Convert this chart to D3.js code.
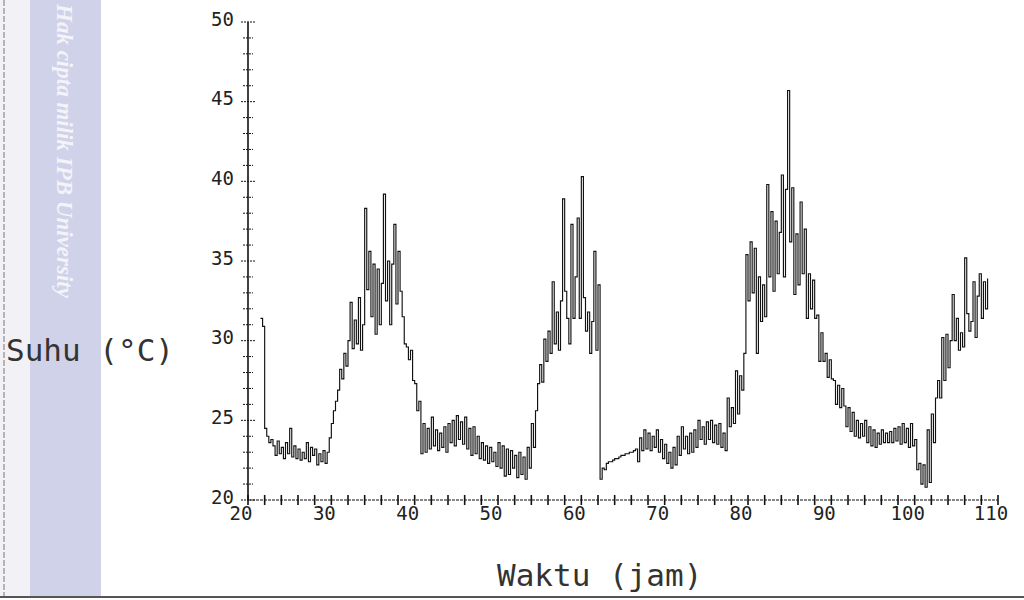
<!DOCTYPE html>
<html>
<head>
<meta charset="utf-8">
<script src="https://cdn.jsdelivr.net/npm/d3@7"></script>
<style>
  html, body { margin: 0; padding: 0; background: #ffffff; }
  svg { display: block; }
</style>
</head>
<body>
<svg id="chart" width="1024" height="600"></svg>
<script>
// ---- data ----
const startHour = 21.5;      // first sample (jam)
const stepHour = 0.25;       // sampling interval (jam)
const temps = [
  31.4, 30.9,
  24.5, 24.0, 23.6, 23.8,   // 22
  23.4, 22.8, 23.7, 22.9,   // 23
  23.3, 22.6, 23.6, 22.9,   // 24
  24.5, 22.7, 23.4, 22.6,   // 25
  23.2, 22.5, 23.0, 22.6,   // 26
  23.6, 22.4, 23.3, 22.8,   // 27
  23.2, 22.2, 22.9, 22.4,   // 28
  23.1, 22.3, 23.0, 23.9,   // 29
  24.8, 25.6, 26.2, 26.9,   // 30
  28.2, 27.6, 29.2, 28.4,   // 31
  30.0, 32.4, 29.5, 31.3,   // 32
  29.8, 32.7, 29.4, 31.0,   // 33
  38.3, 33.2, 35.6, 31.5,   // 34
  34.8, 30.4, 34.5, 31.0,   // 35
  33.6, 39.2, 32.5, 35.0,   // 36
  31.0, 34.8, 37.3, 32.3,   // 37
  35.6, 33.1, 31.5, 29.8,   // 38
  29.6, 28.8, 29.4, 27.5,   // 39
  27.3, 25.6, 26.2, 22.9,   // 40
  24.8, 23.0, 24.5, 23.2,   // 41
  25.2, 23.4, 24.4, 23.1,   // 42
  24.2, 23.3, 24.6, 23.0,   // 43
  24.8, 23.6, 25.0, 23.4,   // 44
  25.3, 23.8, 24.9, 23.5,   // 45
  25.2, 23.2, 24.5, 22.8,   // 46
  24.6, 22.9, 24.0, 22.6,   // 47
  23.6, 22.5, 23.4, 22.3,   // 48
  23.3, 22.4, 23.0, 22.1,   // 49
  23.6, 22.0, 23.4, 21.5,   // 50
  23.2, 21.6, 23.1, 22.0,   // 51
  22.8, 21.4, 23.0, 21.6,   // 52
  22.7, 21.3, 23.3, 22.0,   // 53
  24.8, 23.3, 25.6, 27.3,   // 54
  28.5, 27.4, 30.1, 28.7,   // 55
  30.6, 29.2, 33.7, 29.8,   // 56
  31.8, 29.4, 32.5, 38.9,   // 57
  33.1, 31.4, 29.8, 37.3,   // 58
  31.4, 34.0, 37.7, 31.4,   // 59
  40.3, 32.7, 30.6, 31.8,   // 60
  29.2, 31.2, 35.6, 29.4,   // 61
  33.5, 21.3, 22.0, 21.9,   // 62
  22.3, 22.4, 22.4, 22.5,   // 63
  22.6, 22.6, 22.7, 22.8,   // 64
  22.8, 22.9, 22.9, 23.0,   // 65
  23.0, 23.1, 23.2, 22.4,   // 66
  23.9, 23.1, 24.4, 23.2,   // 67
  24.2, 23.1, 24.0, 23.3,   // 68
  24.4, 23.0, 23.8, 22.6,   // 69
  23.5, 22.3, 23.0, 22.0,   // 70
  23.3, 22.2, 24.0, 22.8,   // 71
  24.6, 23.2, 24.0, 22.9,   // 72
  24.2, 23.0, 24.4, 23.3,   // 73
  25.0, 23.8, 24.6, 23.5,   // 74
  24.9, 23.8, 25.0, 23.6,   // 75
  24.7, 23.5, 24.8, 23.3,   // 76
  24.2, 23.1, 26.4, 24.6,   // 77
  25.8, 24.8, 28.1, 25.4,   // 78
  27.8, 26.9, 29.2, 35.4,   // 79
  32.5, 36.2, 33.0, 35.8,   // 80
  29.2, 34.0, 31.2, 33.5,   // 81
  31.5, 39.8, 34.0, 38.1,   // 82
  33.1, 37.5, 34.2, 36.8,   // 83
  40.4, 34.0, 39.5, 45.7,   // 84
  36.2, 39.6, 32.9, 36.7,   // 85
  33.5, 38.7, 34.2, 37.0,   // 86
  31.4, 34.2, 32.0, 33.8,   // 87
  31.4, 31.6, 28.7, 30.5,   // 88
  28.7, 29.2, 27.7, 28.8,   // 89
  27.6, 27.5, 26.0, 27.2,   // 90
  25.8, 27.0, 25.9, 24.6,   // 91
  25.8, 24.3, 25.5, 24.0,   // 92
  25.0, 23.9, 24.8, 24.0,   // 93
  25.0, 23.6, 24.6, 23.4,   // 94
  24.4, 23.3, 24.2, 23.5,   // 95
  24.4, 23.6, 24.2, 23.6,   // 96
  24.3, 23.6, 24.5, 23.7,   // 97
  24.6, 23.5, 24.8, 23.6,   // 98
  24.5, 23.3, 24.8, 23.4,   // 99
  23.8, 21.9, 22.3, 21.0,   // 100
  22.2, 20.8, 24.4, 21.1,   // 101
  25.4, 23.6, 26.4, 27.5,   // 102
  26.4, 30.2, 27.5, 30.4,   // 103
  28.3, 30.0, 32.9, 30.0,   // 104
  31.4, 29.4, 30.5, 29.6,   // 105
  35.2, 31.7, 30.6, 31.2,   // 106
  33.7, 30.2, 32.8, 34.2,   // 107
  31.4, 33.7, 32.0, 33.9    // 108
];
const xTickLabels = [20, 30, 40, 50, 60, 70, 80, 90, 100, 110];
const yTickLabels = [20, 25, 30, 35, 40, 45, 50];
const xLabel = "Waktu (jam)";
const yLabel = "Suhu (\u00B0C)";
const watermark = "Hak cipta milik IPB University";

// ---- drawing ----
const svg = d3.select("#chart");
const ink = "#111";
const mono = "'DejaVu Sans Mono', 'Liberation Mono', monospace";

// scanned page margin strip
svg.append("rect").attr("x", 0).attr("y", 0).attr("width", 30).attr("height", 596).attr("fill", "#f1f1f6");
svg.append("rect").attr("x", 30).attr("y", 0).attr("width", 71).attr("height", 596).attr("fill", "#cfd2e8");
svg.append("line").attr("x1", 4).attr("x2", 4).attr("y1", 0).attr("y2", 596)
  .attr("stroke", "#8a8a90").attr("stroke-width", 1.2).attr("stroke-dasharray", "6,2");
svg.append("text")
  .attr("transform", "translate(57,4) rotate(90)")
  .attr("font-family", "'Liberation Serif', 'DejaVu Serif', serif")
  .attr("font-style", "italic").attr("font-weight", "bold")
  .attr("font-size", 23).attr("fill", "#ffffff").attr("fill-opacity", 0.75)
  .text(watermark);
svg.append("line").attr("x1", 0).attr("x2", 1024).attr("y1", 597).attr("y2", 597)
  .attr("stroke", "#555").attr("stroke-width", 2);

const x = d3.scaleLinear().domain([20, 110]).range([248, 998]);
const y = d3.scaleLinear().domain([20, 50]).range([500, 22]);

// Y axis: line + cross ticks every 1 unit
const yAxisG = svg.append("g");
yAxisG.append("line").attr("x1", x(20)).attr("x2", x(20)).attr("y1", y(50)).attr("y2", y(20))
  .attr("stroke", ink).attr("stroke-width", 1.6);
yAxisG.selectAll("line.yt").data(d3.range(20, 51, 1)).join("line")
  .attr("class", "yt")
  .attr("x1", d => x(20) - (d % 5 === 0 ? 7 : 5))
  .attr("x2", d => x(20) + (d % 5 === 0 ? 7 : 5))
  .attr("y1", d => y(d)).attr("y2", d => y(d))
  .attr("stroke", ink).attr("stroke-width", 1).attr("stroke-dasharray", "2,1");
yAxisG.selectAll("text").data(yTickLabels).join("text")
  .attr("x", x(20) - 14).attr("y", d => y(d) - 2)
  .attr("text-anchor", "end").attr("dominant-baseline", "middle")
  .attr("font-family", mono).attr("font-size", 19).attr("fill", "#222")
  .text(d => d);

// X axis: line + cross ticks every 2 units
const xAxisG = svg.append("g");
xAxisG.append("line").attr("x1", x(20)).attr("x2", x(110)).attr("y1", y(20)).attr("y2", y(20))
  .attr("stroke", ink).attr("stroke-width", 1).attr("stroke-dasharray", "3,1");
xAxisG.selectAll("line.xt").data(d3.range(20, 111, 2)).join("line")
  .attr("class", "xt")
  .attr("x1", d => x(d)).attr("x2", d => x(d))
  .attr("y1", y(20) - 5).attr("y2", y(20) + 5)
  .attr("stroke", ink).attr("stroke-width", 1.6);
xAxisG.selectAll("text").data(xTickLabels).join("text")
  .attr("x", d => x(d) - 7).attr("y", y(20) + 20)
  .attr("text-anchor", "middle")
  .attr("font-family", mono).attr("font-size", 19).attr("fill", "#222")
  .text(d => d);

// axis titles
svg.append("text").attr("x", 6).attr("y", 361)
  .attr("font-family", mono).attr("font-size", 31).attr("fill", "#333")
  .text(yLabel);
svg.append("text").attr("x", 497).attr("y", 586)
  .attr("font-family", mono).attr("font-size", 31).attr("fill", "#333")
  .text(xLabel);

// series
const points = temps.map((v, i) => [startHour + i * stepHour, v]);
const line = d3.line().x(d => x(d[0])).y(d => y(d[1])).curve(d3.curveStepAfter);
svg.append("path").datum(points)
  .attr("d", line)
  .attr("fill", "none").attr("stroke", ink).attr("stroke-width", 1.15)
  .attr("stroke-linejoin", "miter");
</script>
</body>
</html>
